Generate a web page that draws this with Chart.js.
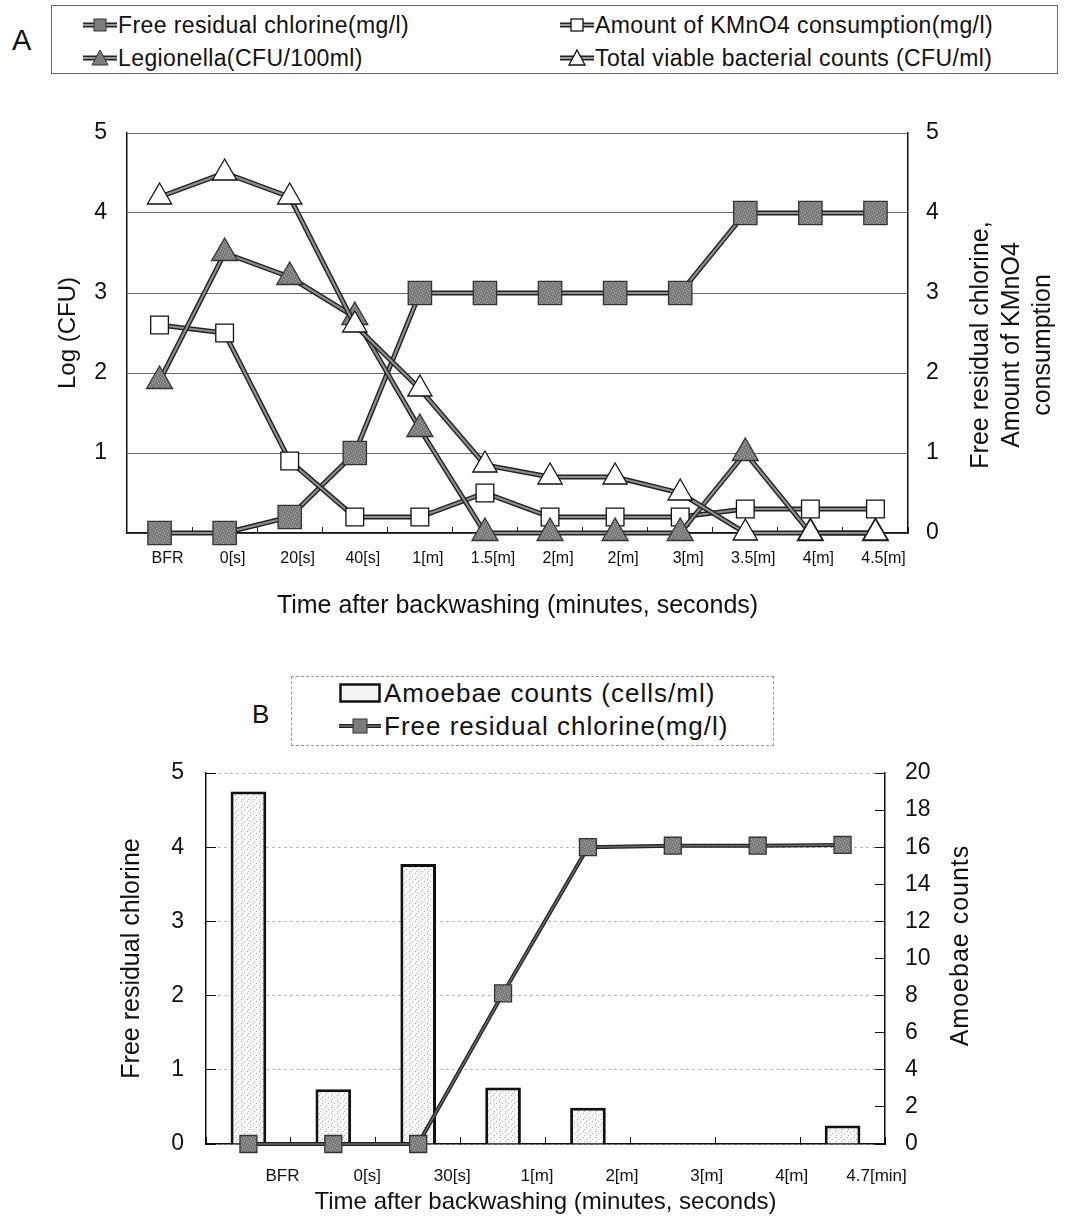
<!DOCTYPE html>
<html>
<head>
<meta charset="utf-8">
<script src="https://cdn.jsdelivr.net/npm/chart.js@4.4.0/dist/chart.umd.min.js"></script>
<style>
  body { margin:0; background:#fff; width:1066px; height:1221px; position:relative; overflow:hidden;
         font-family:"Liberation Sans", Arial, sans-serif; color:#111; }
  .abs { position:absolute; }
  .leg { position:absolute; display:flex; align-items:center; height:30px; font-size:23px; letter-spacing:0.4px; white-space:nowrap; }
  .legB { font-size:26px; letter-spacing:1px; height:32px; }
  .leg svg { margin-right:1px; }
  #boxA { left:51px; top:5px; width:1005px; height:67px; border:1px solid #666; }
  #boxB { left:291px; top:676px; width:481px; height:68px; border:1px dashed #999; }
  #cA { left:0; top:90px; }
  #cB { left:0; top:650px; }
</style>
</head>
<body>

<div class="abs" style="left:12px;top:24px;font-size:29px;">A</div>
<div id="boxA" class="abs"></div>
<div class="leg" style="left:83px;top:10px;">
  <svg width="34" height="20"><line x1="0" y1="10" x2="34" y2="10" stroke="#222" stroke-width="5"/><line x1="0" y1="10" x2="34" y2="10" stroke="#999" stroke-width="2"/><rect x="11" y="4" width="12" height="12" fill="#7d7d7d" stroke="#333"/></svg>Free residual chlorine(mg/l)</div>
<div class="leg" style="left:560px;top:10px;">
  <svg width="34" height="20"><line x1="0" y1="10" x2="34" y2="10" stroke="#222" stroke-width="5"/><line x1="0" y1="10" x2="34" y2="10" stroke="#999" stroke-width="2"/><rect x="11" y="4" width="12" height="12" fill="#fff" stroke="#111" stroke-width="1.3"/></svg>Amount of KMnO4 consumption(mg/l)</div>
<div class="leg" style="left:83px;top:43px;">
  <svg width="34" height="20"><line x1="0" y1="10" x2="34" y2="10" stroke="#222" stroke-width="5"/><line x1="0" y1="10" x2="34" y2="10" stroke="#999" stroke-width="2"/><polygon points="17,2 25,17 9,17" fill="#7d7d7d" stroke="#333"/></svg>Legionella(CFU/100ml)</div>
<div class="leg" style="left:560px;top:43px;">
  <svg width="34" height="20"><line x1="0" y1="10" x2="34" y2="10" stroke="#222" stroke-width="5"/><line x1="0" y1="10" x2="34" y2="10" stroke="#999" stroke-width="2"/><polygon points="17,2 25,17 9,17" fill="#fff" stroke="#111" stroke-width="1.3"/></svg>Total viable bacterial counts (CFU/ml)</div>

<canvas id="cA" class="abs" width="1066" height="550"></canvas>

<div class="abs" style="left:252px;top:699px;font-size:26px;">B</div>
<div id="boxB" class="abs"></div>
<div class="leg legB" style="left:339px;top:677px;">
  <svg width="44" height="20"><rect x="1.5" y="1.5" width="39" height="17" fill="#f3f3f3" stroke="#111" stroke-width="2.5"/></svg>Amoebae counts (cells/ml)</div>
<div class="leg legB" style="left:339px;top:710px;">
  <svg width="44" height="20"><line x1="0" y1="10" x2="42" y2="10" stroke="#222" stroke-width="4"/><line x1="0" y1="10" x2="42" y2="10" stroke="#777" stroke-width="1.5"/><rect x="14" y="3" width="14" height="14" fill="#7d7d7d" stroke="#333"/></svg>Free residual chlorine(mg/l)</div>

<canvas id="cB" class="abs" width="1066" height="571"></canvas>

<script>
// chart A
const labelsA = ['BFR', '0[s]', '20[s]', '40[s]', '1[m]', '1.5[m]', '2[m]', '2[m]', '3[m]', '3.5[m]', '4[m]', '4.5[m]'];
const chlorineA = [0, 0, 0.2, 1, 3, 3, 3, 3, 3, 4, 4, 4];
const kmno4A = [2.6, 2.5, 0.9, 0.2, 0.2, 0.5, 0.2, 0.2, 0.2, 0.3, 0.3, 0.3];
const legionellaA = [1.9, 3.5, 3.2, 2.7, 1.3, 0, 0, 0, 0, 1.0, 0, 0];
const viableA = [4.2, 4.5, 4.2, 2.6, 1.8, 0.85, 0.7, 0.7, 0.5, 0, 0, 0];

// chart B
const labelsB = ['BFR', '0[s]', '30[s]', '1[m]', '2[m]', '3[m]', '4[m]', '4.7[min]'];
const amoebaeB = [19.0, 2.95, 15.1, 3.05, 1.95, 0, 0, 1.0];
const chlorineB = [0, 0, 0, 2.03, 4.0, 4.02, 4.02, 4.03];

Chart.defaults.font.family = '"Liberation Sans", Arial, sans-serif';
Chart.defaults.color = '#111';

function makePattern(bg, dot, cells) {
  const c = document.createElement('canvas');
  c.width = 6; c.height = 6;
  const g = c.getContext('2d');
  g.fillStyle = bg; g.fillRect(0, 0, 6, 6);
  g.fillStyle = dot;
  cells.forEach(p => g.fillRect(p[0], p[1], 1, 1));
  return g.createPattern(c, 'repeat');
}
const greyFill = makePattern('#7a7a7a', '#a8a8a8', [[0,0],[3,1],[1,3],[4,4],[2,5],[5,2]]);
const stipple = makePattern('#f7f7f7', '#b4b4b4', [[1,1],[4,3],[2,5]]);

// rotated titles for the right-hand axes (read bottom to top)
const sideTitle = {
  id: 'sideTitle',
  afterDraw(chart, args, opts) {
    const s = chart.scales.y2;
    const ctx = chart.ctx;
    const area = chart.chartArea;
    ctx.save();
    ctx.translate(s.left + opts.dx, (area.top + area.bottom) / 2 + opts.dy);
    ctx.rotate(-Math.PI / 2);
    ctx.font = opts.font;
    ctx.fillStyle = '#111';
    ctx.textAlign = 'center';
    ctx.textBaseline = 'middle';
    ctx.letterSpacing = opts.spacing;
    const n = opts.lines.length;
    opts.lines.forEach((t, i) => ctx.fillText(t, 0, (i - (n - 1) / 2) * opts.lineHeight));
    ctx.restore();
  }
};

// each series = dark wide line underneath + grey core line with markers
function under(data, axis, order, w) {
  return { data: data, yAxisID: axis, borderColor: '#222', borderWidth: w, pointRadius: 0,
           order: order, clip: false };
}
function over(label, data, axis, order, w, style, r, fillC) {
  return { label: label, data: data, yAxisID: axis, borderColor: '#8e8e8e', borderWidth: w,
           pointStyle: style, pointRadius: r, pointBackgroundColor: fillC,
           pointBorderColor: fillC === '#fff' ? '#111' : '#333', pointBorderWidth: 1.3,
           order: order, clip: false };
}

new Chart(document.getElementById('cA'), {
  type: 'line',
  data: {
    labels: labelsA,
    datasets: [
      under(chlorineA, 'y2', 8, 5),
      over('Free residual chlorine(mg/l)', chlorineA, 'y2', 7, 2.2, 'rect', 16.5, greyFill),
      under(kmno4A, 'y2', 6, 5),
      over('Amount of KMnO4 consumption(mg/l)', kmno4A, 'y2', 5, 2.2, 'rect', 12.5, '#fff'),
      under(legionellaA, 'y', 4, 5),
      over('Legionella(CFU/100ml)', legionellaA, 'y', 3, 2.2, 'triangle', 15, greyFill),
      under(viableA, 'y', 2, 5),
      over('Total viable bacterial counts (CFU/ml)', viableA, 'y', 1, 2.2, 'triangle', 14, '#fff')
    ]
  },
  options: {
    responsive: false,
    animation: false,
    layout: { padding: { top: 43, left: 0, right: 0, bottom: 0 } },
    plugins: {
      legend: { display: false },
      tooltip: { enabled: false },
      sideTitle: { dx: 104, dy: 12, font: '25px "Liberation Sans", Arial, sans-serif', spacing: '0px',
                   lineHeight: 31, lines: ['Free residual chlorine,', 'Amount of KMnO4', 'consumption'] }
    },
    scales: {
      x: {
        offset: true,
        grid: { drawOnChartArea: false, drawTicks: true, tickLength: -6, offset: true, tickColor: '#222' },
        border: { color: '#111', width: 1.5 },
        ticks: { padding: 22, labelOffset: 8, font: { size: 16 }, autoSkip: false, maxRotation: 0 },
        title: { display: true, text: 'Time after backwashing (minutes, seconds)', font: { size: 25 },
                 padding: { top: 0, bottom: 19 } },
        afterFit(s) { s.height = 107; }
      },
      y: {
        position: 'left', min: 0, max: 5,
        ticks: { stepSize: 1, padding: 20, font: { size: 23 }, callback: v => v === 0 ? '' : v },
        grid: { color: '#6a6a6a', lineWidth: 1, drawTicks: false },
        border: { color: '#111', width: 1.5 },
        title: { display: true, text: 'Log (CFU)', font: { size: 24 }, padding: { top: 54, bottom: 0 } },
        afterFit(s) { s.width = 127; }
      },
      y2: {
        position: 'right', min: 0, max: 5,
        ticks: { stepSize: 1, padding: 18, font: { size: 23 } },
        grid: { drawOnChartArea: false, drawTicks: false },
        border: { color: '#111', width: 1.5 },
        afterFit(s) { s.width = 158; }
      }
    }
  },
  plugins: [sideTitle]
});

new Chart(document.getElementById('cB'), {
  type: 'bar',
  data: {
    labels: labelsB,
    datasets: [
      { type: 'line', ...under(chlorineB, 'y', 2, 4) },
      { type: 'line', ...over('Free residual chlorine(mg/l)', chlorineB, 'y', 1, 1.5, 'rect', 12, greyFill), borderColor: '#6a6a6a' },
      { type: 'bar', label: 'Amoebae counts (cells/ml)', data: amoebaeB, yAxisID: 'y2',
        backgroundColor: stipple, borderColor: '#111', borderWidth: 3,
        categoryPercentage: 1, barPercentage: 0.42, order: 3 }
    ]
  },
  options: {
    responsive: false,
    animation: false,
    layout: { padding: { top: 123, left: 0, right: 0, bottom: 0 } },
    plugins: {
      legend: { display: false },
      tooltip: { enabled: false },
      sideTitle: { dx: 76, dy: -13, font: '25px "Liberation Sans", Arial, sans-serif', spacing: '1px',
                   lineHeight: 30, lines: ['Amoebae counts'] }
    },
    scales: {
      x: {
        offset: true,
        grid: { drawOnChartArea: false, drawTicks: true, tickLength: -7, offset: true, tickColor: '#111' },
        border: { color: '#111', width: 1.5 },
        ticks: { padding: 29, labelOffset: 34, font: { size: 17 }, autoSkip: false, maxRotation: 0 },
        title: { display: true, text: 'Time after backwashing (minutes, seconds)', font: { size: 24 },
                 padding: { top: 0, bottom: 4 } },
        afterFit(s) { s.height = 77; }
      },
      y: {
        position: 'left', min: 0, max: 5,
        ticks: { stepSize: 1, padding: 32, font: { size: 23 } },
        grid: { color: '#9a9a9a', lineWidth: 1, tickLength: -10, tickColor: '#111', tickWidth: 1 },
        border: { color: '#111', width: 1.5, dash: [2, 4] },
        title: { display: true, text: 'Free residual chlorine', font: { size: 25 }, padding: { top: 117, bottom: 0 } },
        afterFit(s) { s.width = 206; }
      },
      y2: {
        position: 'right', min: 0, max: 20,
        ticks: { stepSize: 2, padding: 30, font: { size: 23 } },
        grid: { drawOnChartArea: false, tickLength: -10, tickColor: '#111', tickWidth: 1 },
        border: { color: '#111', width: 1.5 },
        afterFit(s) { s.width = 181; }
      }
    }
  },
  plugins: [sideTitle]
});
</script>
</body>
</html>
